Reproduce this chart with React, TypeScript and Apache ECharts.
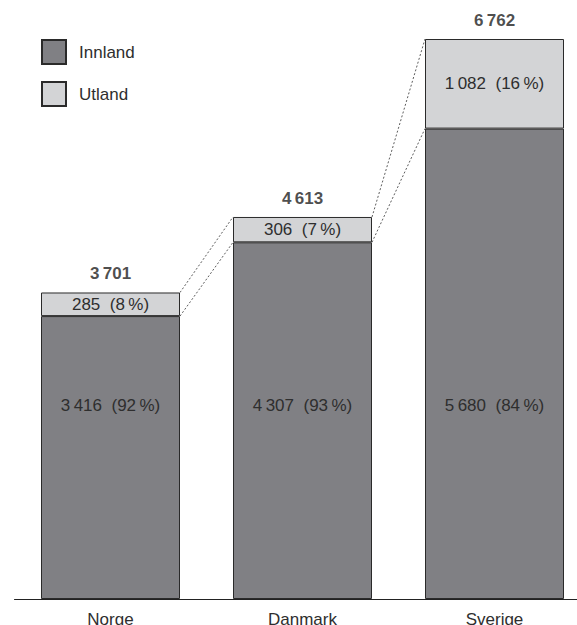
import React, { useEffect, useRef } from "react";
import * as echarts from "echarts";

const categories = ["Norge", "Danmark", "Sverige"];
const innland = [3416, 4307, 5680];
const utland = [285, 306, 1082];
const innlandPct = [92, 93, 84];
const utlandPct = [8, 7, 16];

const FONT = "'Liberation Sans', Arial, Helvetica, sans-serif";
const TEXT = "#2e2e2e";
const BAR_W = 139;
const INNER_LABEL_RISE = 194; // px above baseline where the Innland labels sit

const fmt = (n: number) => {
  const s = String(n);
  return s.length > 3 ? s.slice(0, s.length - 3) + "\u2009" + s.slice(s.length - 3) : s;
};

export default function App() {
  const ref = useRef<HTMLDivElement>(null);
  useEffect(() => {
    if (!ref.current) return;
    const chart = echarts.init(ref.current, undefined, { renderer: "svg" });
    const totals = innland.map((v, i) => v + utland[i]);
    const links = categories.slice(0, -1).map((_, i) => [i, totals[i], innland[i], totals[i + 1], innland[i + 1]]);
    chart.setOption({
      animation: false,
      textStyle: { fontFamily: FONT },
      legend: {
        data: ["Innland", "Utland"],
        orient: "vertical",
        left: 41,
        top: 39,
        padding: 0,
        itemWidth: 24,
        itemHeight: 24,
        itemGap: 16,
        icon: "rect",
        textStyle: { fontSize: 17, color: TEXT, fontFamily: FONT, padding: [0, 0, 0, 8] },
      },
      grid: { left: 14.5, width: 576, top: 39, bottom: 26, containLabel: false, outerBoundsMode: "none" },
      xAxis: {
        type: "category",
        data: categories,
        axisLine: { lineStyle: { color: "#222", width: 1 } },
        axisTick: { show: false },
        axisLabel: { fontSize: 17, color: TEXT, margin: 12, fontFamily: FONT },
      },
      yAxis: { type: "value", min: 0, max: 6762, show: false, splitLine: { show: false } },
      series: [
        {
          name: "Innland",
          type: "bar",
          stack: "a",
          barWidth: BAR_W,
          data: innland,
          itemStyle: { color: "#808084", borderColor: "#2a2a2a", borderWidth: 1 },
        },
        {
          name: "Utland",
          type: "bar",
          stack: "a",
          barWidth: BAR_W,
          data: utland,
          itemStyle: { color: "#d3d4d6", borderColor: "#2a2a2a", borderWidth: 1 },
          label: {
            show: true,
            position: "inside",
            fontSize: 17,
            color: TEXT,
            fontFamily: FONT,
            formatter: (p: any) => `${fmt(utland[p.dataIndex])}  (${utlandPct[p.dataIndex]}\u2009%)`,
          },
        },
        {
          name: "Total",
          type: "scatter",
          symbolSize: 0,
          data: totals,
          label: {
            show: true,
            position: "top",
            distance: 10,
            fontSize: 17,
            fontWeight: "bold",
            color: "#1e1e1e",
            fontFamily: FONT,
            formatter: (p: any) => fmt(totals[p.dataIndex]),
          },
          silent: true,
        },
        {
          name: "InnlandLabels",
          type: "custom",
          silent: true,
          z: 10,
          clip: false,
          data: innland.map((v, i) => [i, v]),
          encode: { x: 0, y: 1 },
          renderItem: (params: any, api: any) => {
            const i = api.value(0);
            const base = api.coord([i, 0]);
            return {
              type: "text",
              x: base[0],
              y: base[1] - INNER_LABEL_RISE,
              z2: 100,
              style: {
                text: `${fmt(innland[i])}  (${innlandPct[i]}\u2009%)`,
                fill: TEXT,
                fontSize: 17,
                fontFamily: FONT,
                align: "center",
                verticalAlign: "middle",
              },
            };
          },
        },
        {
          name: "Links",
          type: "custom",
          silent: true,
          z: 10,
          data: links,
          encode: { x: 0, y: 1 },
          renderItem: (params: any, api: any) => {
            const i = api.value(0);
            const a1 = api.coord([i, api.value(1)]);
            const a2 = api.coord([i, api.value(2)]);
            const b1 = api.coord([i + 1, api.value(3)]);
            const b2 = api.coord([i + 1, api.value(4)]);
            const h = BAR_W / 2;
            const style = { stroke: "#333", lineWidth: 0.8, lineDash: [2, 2] };
            return {
              type: "group",
              children: [
                { type: "line", shape: { x1: a1[0] + h, y1: a1[1], x2: b1[0] - h, y2: b1[1] }, style },
                { type: "line", shape: { x1: a2[0] + h, y1: a2[1], x2: b2[0] - h, y2: b2[1] }, style },
              ],
            };
          },
        },
      ],
    });
    return () => chart.dispose();
  }, []);
  return <div ref={ref} style={{ width: 577, height: 625, position: "absolute", left: 0, top: 0 }} />;
}
